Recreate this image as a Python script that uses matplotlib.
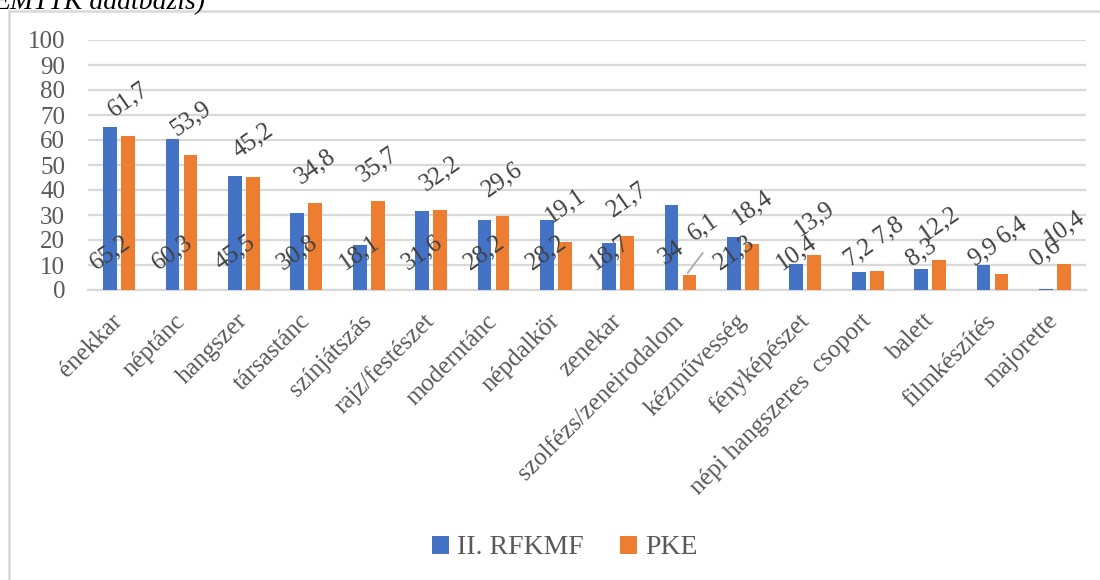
import matplotlib
matplotlib.use("Agg")
import matplotlib.pyplot as plt
import numpy as np
from matplotlib.patches import Rectangle

# %%
categories = ["énekkar", "néptánc", "hangszer", "társastánc", "színjátszás",
              "rajz/festészet", "moderntánc", "népdalkör", "zenekar",
              "szolfézs/zeneirodalom", "kézművesség", "fényképészet",
              "népi hangszeres  csoport", "balett", "filmkészítés", "majorette"]
rfkmf = [65.2, 60.3, 45.5, 30.8, 18.1, 31.6, 28.2, 28.2, 18.7, 34,
         21.3, 10.4, 7.2, 8.3, 9.9, 0.6]
pke = [61.7, 53.9, 45.2, 34.8, 35.7, 32.2, 29.6, 19.1, 21.7, 6.1,
       18.4, 13.9, 7.8, 12.2, 6.4, 10.4]
series_names = ["II. RFKMF", "PKE"]
yticks = list(range(0, 101, 10))

# %%
plt.rcParams['font.family'] = ['Liberation Serif', 'DejaVu Serif']
blue = '#4472C4'
orange = '#ED7D31'
txt = '#595959'
grid = '#D9D9D9'
fs = 18

def fmt(v):
    return f"{v:g}".replace('.', ',')

fig = plt.figure(figsize=(11, 5.8), dpi=100)
ax = fig.add_axes([88/1100, 1 - 290/580, (1086 - 88)/1100, 250/580])

x = np.arange(len(categories))
w = 0.22
off = 0.145
ax.bar(x - off, rfkmf, width=w, color=blue, zorder=3, label=series_names[0])
ax.bar(x + off, pke, width=w, color=orange, zorder=3, label=series_names[1])

ax.set_xlim(-0.5, len(categories) - 0.5)
ax.set_ylim(0, 100)
ax.set_yticks(yticks)
ax.yaxis.grid(True, color=grid, linewidth=1.6, zorder=0)
ax.set_axisbelow(True)
for s in ['top', 'right', 'left']:
    ax.spines[s].set_visible(False)
ax.spines['bottom'].set_color(grid)
ax.spines['bottom'].set_linewidth(1.6)
ax.tick_params(axis='both', length=0, labelsize=fs, labelcolor=txt)
ax.tick_params(axis='y', pad=16.5)
ax.set_xticks(x)
ax.set_xticklabels(categories, rotation=45, ha='right', va='center',
                   rotation_mode='anchor')
ax.tick_params(axis='x', pad=20)

# value labels
for i, v in enumerate(rfkmf):
    ax.text(i - off, 15, fmt(v), rotation=35, ha='center', va='center',
            fontsize=fs, color='#404040', zorder=4)

nudge = {9: (0.22, 19), 12: (0.2, 16), 14: (0.18, 17.6)}
for i, v in enumerate(pke):
    dx, dy = nudge.get(i, (0, 14.5))
    ax.text(i + off + dx, v + dy, fmt(v), rotation=35, ha='center',
            va='center', fontsize=fs, color='#404040', zorder=4)
# leader line for the small label
ax.plot([9 + off - 0.03, 9 + off + 0.21], [pke[9] + 0.8, pke[9] + 8.7],
        color='#A6A6A6', linewidth=1.2, zorder=4)

fig.legend(loc='center', bbox_to_anchor=(565/1100, 1 - 548/580), ncol=2,
           frameon=False, fontsize=20, labelcolor=txt, handlelength=0.6,
           handleheight=0.6, handletextpad=0.3, columnspacing=1.3)

fig.add_artist(Rectangle((9/1100, -0.1), 1.2, 1.1 - 11/580,
                         transform=fig.transFigure, fill=False,
                         edgecolor=grid, linewidth=1.8))
fig.text(-7/1100, 1 - 9/580, "EMTTK adatbázis)", fontsize=20,
         style='italic', color='black', ha='left', va='baseline')

fig.savefig('out.png', dpi=100)
